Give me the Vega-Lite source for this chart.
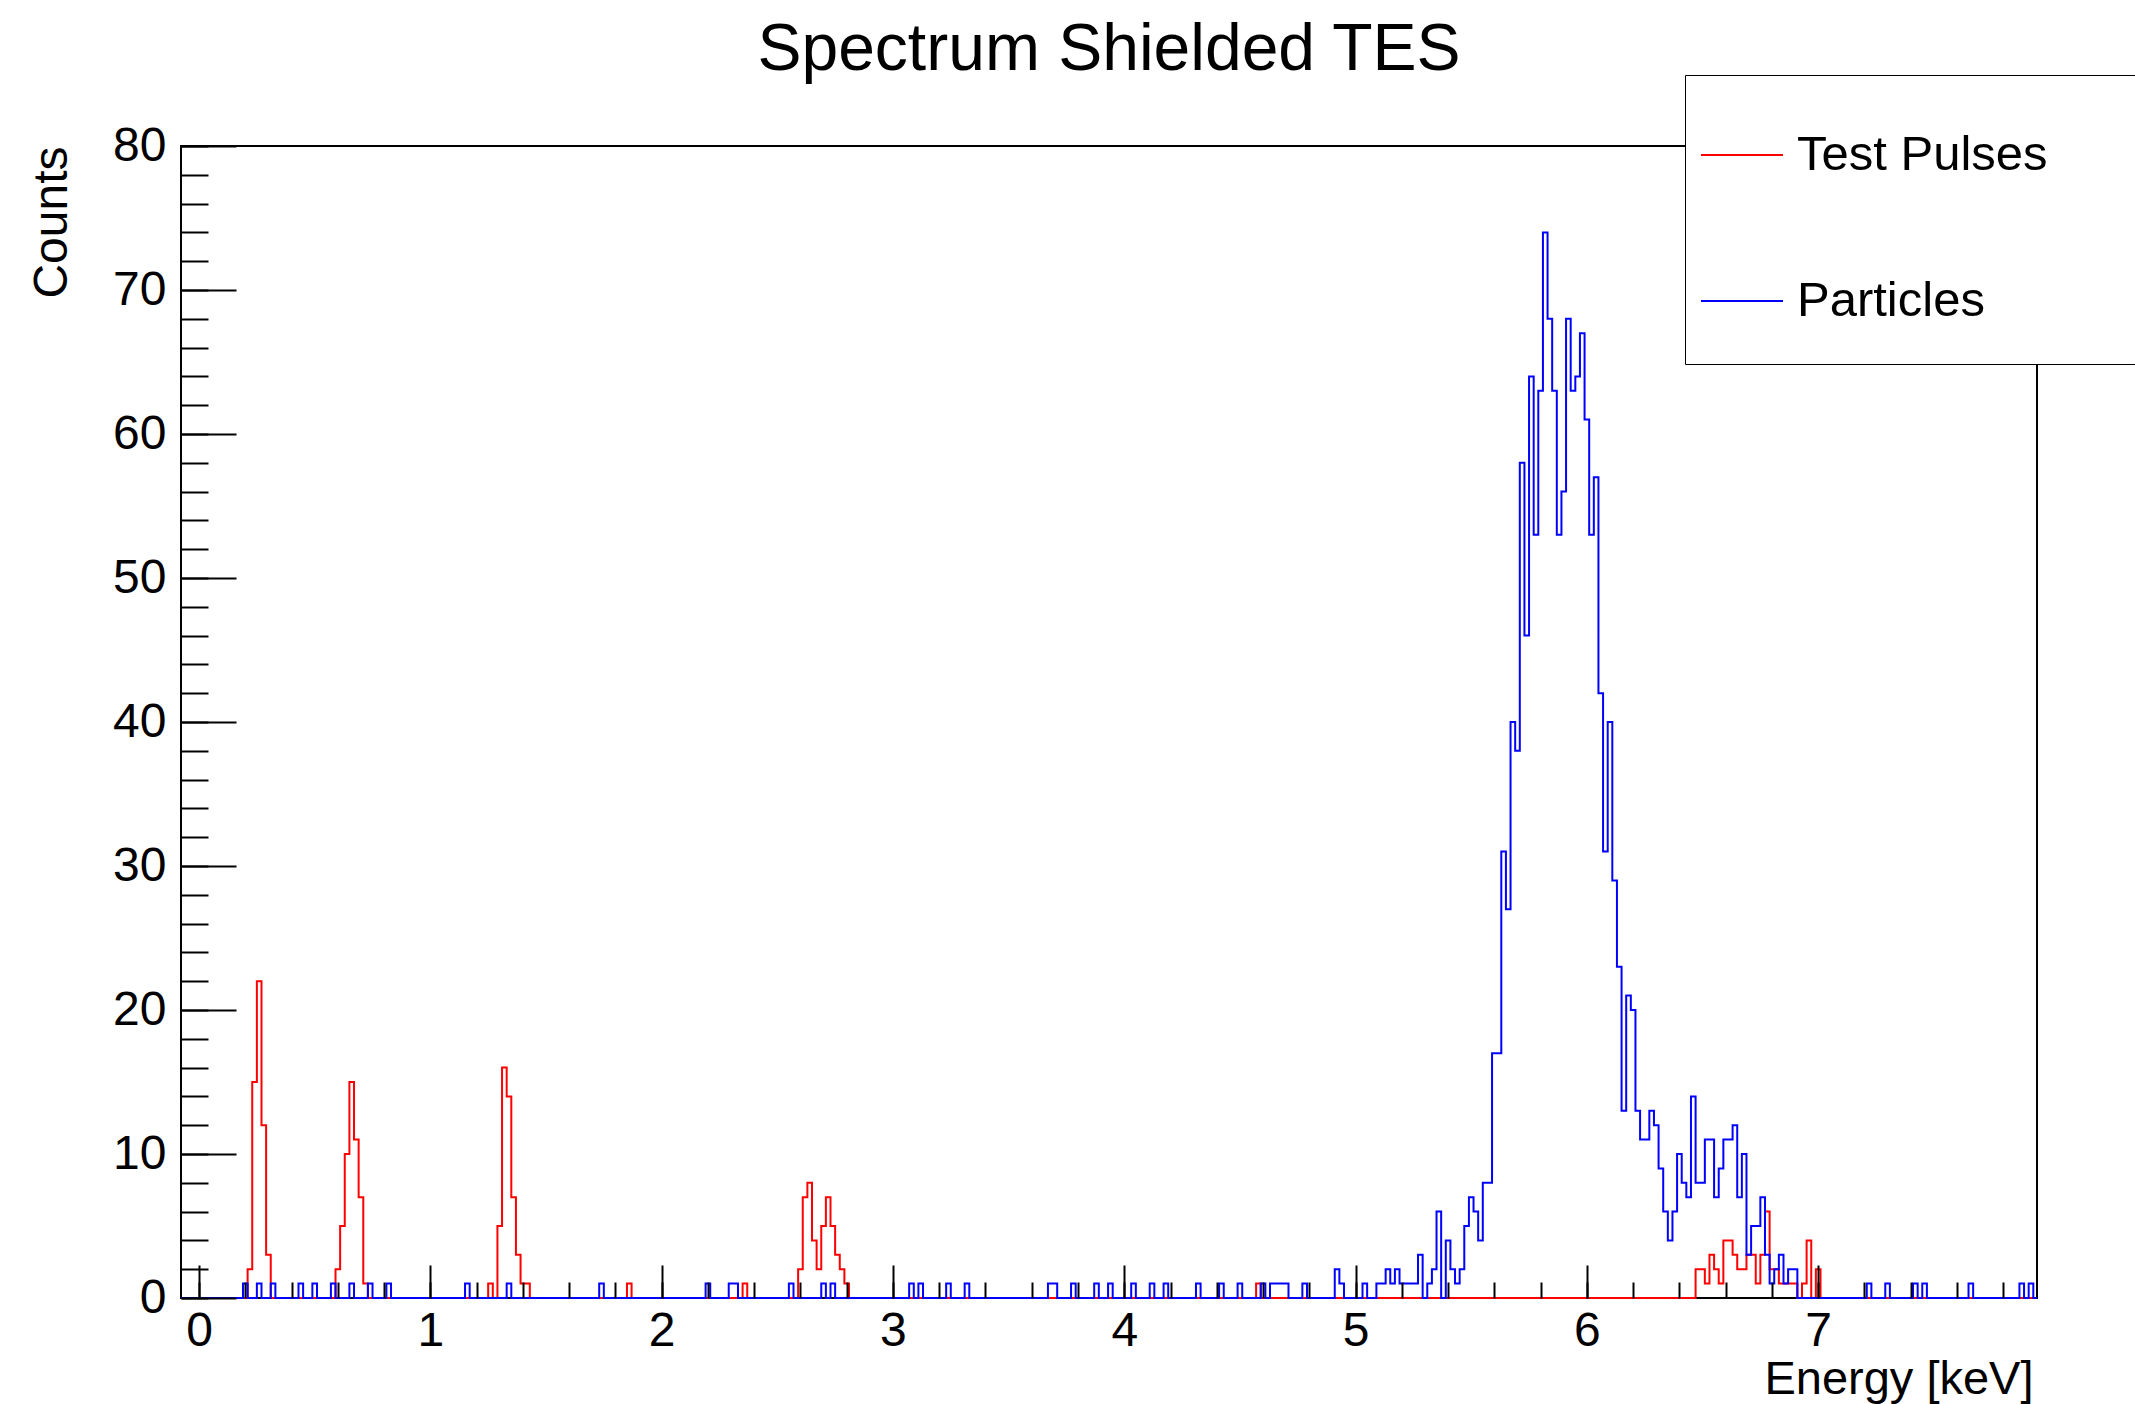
{
  "$schema": "https://vega.github.io/schema/vega-lite/v6.json",
  "width": 1856,
  "height": 1152,
  "autosize": {"type": "none"},
  "padding": {"left": 181, "top": 146, "right": 98, "bottom": 106},
  "background": "white",
  "config": {
    "font": "Liberation Sans",
    "view": {"stroke": "black", "strokeWidth": 2},
    "axis": {"labelFont": "Liberation Sans", "titleFont": "Liberation Sans", "labelColor": "black", "titleColor": "black", "grid": false, "labelOverlap": false, "labelFlush": false}
  },
  "title": {"text": "Spectrum Shielded TES", "font": "Liberation Sans", "fontSize": 66, "fontWeight": "normal", "color": "black", "anchor": "middle", "baseline": "alphabetic", "offset": 4, "dy": 65},
  "datasets": {
    "pulses": [
      {"series": "Test Pulses", "energy": -0.078, "counts": 0},
      {"series": "Test Pulses", "energy": 0.21, "counts": 2},
      {"series": "Test Pulses", "energy": 0.23, "counts": 15},
      {"series": "Test Pulses", "energy": 0.25, "counts": 22},
      {"series": "Test Pulses", "energy": 0.27, "counts": 12},
      {"series": "Test Pulses", "energy": 0.29, "counts": 3},
      {"series": "Test Pulses", "energy": 0.31, "counts": 0},
      {"series": "Test Pulses", "energy": 0.59, "counts": 2},
      {"series": "Test Pulses", "energy": 0.61, "counts": 5},
      {"series": "Test Pulses", "energy": 0.63, "counts": 10},
      {"series": "Test Pulses", "energy": 0.65, "counts": 15},
      {"series": "Test Pulses", "energy": 0.67, "counts": 11},
      {"series": "Test Pulses", "energy": 0.69, "counts": 7},
      {"series": "Test Pulses", "energy": 0.71, "counts": 1},
      {"series": "Test Pulses", "energy": 0.73, "counts": 0},
      {"series": "Test Pulses", "energy": 1.25, "counts": 1},
      {"series": "Test Pulses", "energy": 1.27, "counts": 0},
      {"series": "Test Pulses", "energy": 1.29, "counts": 5},
      {"series": "Test Pulses", "energy": 1.31, "counts": 16},
      {"series": "Test Pulses", "energy": 1.33, "counts": 14},
      {"series": "Test Pulses", "energy": 1.35, "counts": 7},
      {"series": "Test Pulses", "energy": 1.37, "counts": 3},
      {"series": "Test Pulses", "energy": 1.39, "counts": 1},
      {"series": "Test Pulses", "energy": 1.41, "counts": 1},
      {"series": "Test Pulses", "energy": 1.43, "counts": 0},
      {"series": "Test Pulses", "energy": 1.85, "counts": 1},
      {"series": "Test Pulses", "energy": 1.87, "counts": 0},
      {"series": "Test Pulses", "energy": 2.35, "counts": 1},
      {"series": "Test Pulses", "energy": 2.37, "counts": 0},
      {"series": "Test Pulses", "energy": 2.59, "counts": 2},
      {"series": "Test Pulses", "energy": 2.61, "counts": 7},
      {"series": "Test Pulses", "energy": 2.63, "counts": 8},
      {"series": "Test Pulses", "energy": 2.65, "counts": 4},
      {"series": "Test Pulses", "energy": 2.67, "counts": 2},
      {"series": "Test Pulses", "energy": 2.69, "counts": 5},
      {"series": "Test Pulses", "energy": 2.71, "counts": 7},
      {"series": "Test Pulses", "energy": 2.73, "counts": 5},
      {"series": "Test Pulses", "energy": 2.75, "counts": 3},
      {"series": "Test Pulses", "energy": 2.77, "counts": 2},
      {"series": "Test Pulses", "energy": 2.79, "counts": 1},
      {"series": "Test Pulses", "energy": 2.81, "counts": 0},
      {"series": "Test Pulses", "energy": 4.57, "counts": 1},
      {"series": "Test Pulses", "energy": 4.59, "counts": 0},
      {"series": "Test Pulses", "energy": 6.47, "counts": 2},
      {"series": "Test Pulses", "energy": 6.49, "counts": 2},
      {"series": "Test Pulses", "energy": 6.51, "counts": 1},
      {"series": "Test Pulses", "energy": 6.53, "counts": 3},
      {"series": "Test Pulses", "energy": 6.55, "counts": 2},
      {"series": "Test Pulses", "energy": 6.57, "counts": 1},
      {"series": "Test Pulses", "energy": 6.59, "counts": 4},
      {"series": "Test Pulses", "energy": 6.61, "counts": 4},
      {"series": "Test Pulses", "energy": 6.63, "counts": 3},
      {"series": "Test Pulses", "energy": 6.65, "counts": 2},
      {"series": "Test Pulses", "energy": 6.67, "counts": 2},
      {"series": "Test Pulses", "energy": 6.69, "counts": 3},
      {"series": "Test Pulses", "energy": 6.71, "counts": 3},
      {"series": "Test Pulses", "energy": 6.73, "counts": 1},
      {"series": "Test Pulses", "energy": 6.75, "counts": 3},
      {"series": "Test Pulses", "energy": 6.77, "counts": 6},
      {"series": "Test Pulses", "energy": 6.79, "counts": 2},
      {"series": "Test Pulses", "energy": 6.81, "counts": 2},
      {"series": "Test Pulses", "energy": 6.83, "counts": 1},
      {"series": "Test Pulses", "energy": 6.85, "counts": 1},
      {"series": "Test Pulses", "energy": 6.87, "counts": 1},
      {"series": "Test Pulses", "energy": 6.89, "counts": 1},
      {"series": "Test Pulses", "energy": 6.91, "counts": 0},
      {"series": "Test Pulses", "energy": 6.93, "counts": 1},
      {"series": "Test Pulses", "energy": 6.95, "counts": 4},
      {"series": "Test Pulses", "energy": 6.97, "counts": 0},
      {"series": "Test Pulses", "energy": 6.99, "counts": 2},
      {"series": "Test Pulses", "energy": 7.01, "counts": 0},
      {"series": "Test Pulses", "energy": 7.946, "counts": 0}
    ],
    "particles": [
      {"series": "Particles", "energy": -0.078, "counts": 0},
      {"series": "Particles", "energy": 0.19, "counts": 1},
      {"series": "Particles", "energy": 0.21, "counts": 0},
      {"series": "Particles", "energy": 0.25, "counts": 1},
      {"series": "Particles", "energy": 0.27, "counts": 0},
      {"series": "Particles", "energy": 0.31, "counts": 1},
      {"series": "Particles", "energy": 0.33, "counts": 0},
      {"series": "Particles", "energy": 0.43, "counts": 1},
      {"series": "Particles", "energy": 0.45, "counts": 0},
      {"series": "Particles", "energy": 0.49, "counts": 1},
      {"series": "Particles", "energy": 0.51, "counts": 0},
      {"series": "Particles", "energy": 0.57, "counts": 1},
      {"series": "Particles", "energy": 0.59, "counts": 0},
      {"series": "Particles", "energy": 0.65, "counts": 1},
      {"series": "Particles", "energy": 0.67, "counts": 0},
      {"series": "Particles", "energy": 0.73, "counts": 1},
      {"series": "Particles", "energy": 0.75, "counts": 0},
      {"series": "Particles", "energy": 0.81, "counts": 1},
      {"series": "Particles", "energy": 0.83, "counts": 0},
      {"series": "Particles", "energy": 1.15, "counts": 1},
      {"series": "Particles", "energy": 1.17, "counts": 0},
      {"series": "Particles", "energy": 1.33, "counts": 1},
      {"series": "Particles", "energy": 1.35, "counts": 0},
      {"series": "Particles", "energy": 1.73, "counts": 1},
      {"series": "Particles", "energy": 1.75, "counts": 0},
      {"series": "Particles", "energy": 2.19, "counts": 1},
      {"series": "Particles", "energy": 2.21, "counts": 0},
      {"series": "Particles", "energy": 2.29, "counts": 1},
      {"series": "Particles", "energy": 2.31, "counts": 1},
      {"series": "Particles", "energy": 2.33, "counts": 0},
      {"series": "Particles", "energy": 2.55, "counts": 1},
      {"series": "Particles", "energy": 2.57, "counts": 0},
      {"series": "Particles", "energy": 2.69, "counts": 1},
      {"series": "Particles", "energy": 2.71, "counts": 0},
      {"series": "Particles", "energy": 2.73, "counts": 1},
      {"series": "Particles", "energy": 2.75, "counts": 0},
      {"series": "Particles", "energy": 3.07, "counts": 1},
      {"series": "Particles", "energy": 3.09, "counts": 0},
      {"series": "Particles", "energy": 3.11, "counts": 1},
      {"series": "Particles", "energy": 3.13, "counts": 0},
      {"series": "Particles", "energy": 3.23, "counts": 1},
      {"series": "Particles", "energy": 3.25, "counts": 0},
      {"series": "Particles", "energy": 3.31, "counts": 1},
      {"series": "Particles", "energy": 3.33, "counts": 0},
      {"series": "Particles", "energy": 3.67, "counts": 1},
      {"series": "Particles", "energy": 3.69, "counts": 1},
      {"series": "Particles", "energy": 3.71, "counts": 0},
      {"series": "Particles", "energy": 3.77, "counts": 1},
      {"series": "Particles", "energy": 3.79, "counts": 0},
      {"series": "Particles", "energy": 3.87, "counts": 1},
      {"series": "Particles", "energy": 3.89, "counts": 0},
      {"series": "Particles", "energy": 3.93, "counts": 1},
      {"series": "Particles", "energy": 3.95, "counts": 0},
      {"series": "Particles", "energy": 4.03, "counts": 1},
      {"series": "Particles", "energy": 4.05, "counts": 0},
      {"series": "Particles", "energy": 4.11, "counts": 1},
      {"series": "Particles", "energy": 4.13, "counts": 0},
      {"series": "Particles", "energy": 4.17, "counts": 1},
      {"series": "Particles", "energy": 4.19, "counts": 0},
      {"series": "Particles", "energy": 4.31, "counts": 1},
      {"series": "Particles", "energy": 4.33, "counts": 0},
      {"series": "Particles", "energy": 4.41, "counts": 1},
      {"series": "Particles", "energy": 4.43, "counts": 0},
      {"series": "Particles", "energy": 4.49, "counts": 1},
      {"series": "Particles", "energy": 4.51, "counts": 0},
      {"series": "Particles", "energy": 4.59, "counts": 1},
      {"series": "Particles", "energy": 4.61, "counts": 0},
      {"series": "Particles", "energy": 4.63, "counts": 1},
      {"series": "Particles", "energy": 4.65, "counts": 1},
      {"series": "Particles", "energy": 4.67, "counts": 1},
      {"series": "Particles", "energy": 4.69, "counts": 1},
      {"series": "Particles", "energy": 4.71, "counts": 0},
      {"series": "Particles", "energy": 4.77, "counts": 1},
      {"series": "Particles", "energy": 4.79, "counts": 0},
      {"series": "Particles", "energy": 4.91, "counts": 2},
      {"series": "Particles", "energy": 4.93, "counts": 1},
      {"series": "Particles", "energy": 4.95, "counts": 0},
      {"series": "Particles", "energy": 5.03, "counts": 1},
      {"series": "Particles", "energy": 5.05, "counts": 0},
      {"series": "Particles", "energy": 5.09, "counts": 1},
      {"series": "Particles", "energy": 5.11, "counts": 1},
      {"series": "Particles", "energy": 5.13, "counts": 2},
      {"series": "Particles", "energy": 5.15, "counts": 1},
      {"series": "Particles", "energy": 5.17, "counts": 2},
      {"series": "Particles", "energy": 5.19, "counts": 1},
      {"series": "Particles", "energy": 5.21, "counts": 1},
      {"series": "Particles", "energy": 5.23, "counts": 1},
      {"series": "Particles", "energy": 5.25, "counts": 1},
      {"series": "Particles", "energy": 5.27, "counts": 3},
      {"series": "Particles", "energy": 5.29, "counts": 0},
      {"series": "Particles", "energy": 5.31, "counts": 1},
      {"series": "Particles", "energy": 5.33, "counts": 2},
      {"series": "Particles", "energy": 5.35, "counts": 6},
      {"series": "Particles", "energy": 5.37, "counts": 0},
      {"series": "Particles", "energy": 5.39, "counts": 4},
      {"series": "Particles", "energy": 5.41, "counts": 2},
      {"series": "Particles", "energy": 5.43, "counts": 1},
      {"series": "Particles", "energy": 5.45, "counts": 2},
      {"series": "Particles", "energy": 5.47, "counts": 5},
      {"series": "Particles", "energy": 5.49, "counts": 7},
      {"series": "Particles", "energy": 5.51, "counts": 6},
      {"series": "Particles", "energy": 5.53, "counts": 4},
      {"series": "Particles", "energy": 5.55, "counts": 8},
      {"series": "Particles", "energy": 5.57, "counts": 8},
      {"series": "Particles", "energy": 5.59, "counts": 17},
      {"series": "Particles", "energy": 5.61, "counts": 17},
      {"series": "Particles", "energy": 5.63, "counts": 31},
      {"series": "Particles", "energy": 5.65, "counts": 27},
      {"series": "Particles", "energy": 5.67, "counts": 40},
      {"series": "Particles", "energy": 5.69, "counts": 38},
      {"series": "Particles", "energy": 5.71, "counts": 58},
      {"series": "Particles", "energy": 5.73, "counts": 46},
      {"series": "Particles", "energy": 5.75, "counts": 64},
      {"series": "Particles", "energy": 5.77, "counts": 53},
      {"series": "Particles", "energy": 5.79, "counts": 63},
      {"series": "Particles", "energy": 5.81, "counts": 74},
      {"series": "Particles", "energy": 5.83, "counts": 68},
      {"series": "Particles", "energy": 5.85, "counts": 63},
      {"series": "Particles", "energy": 5.87, "counts": 53},
      {"series": "Particles", "energy": 5.89, "counts": 56},
      {"series": "Particles", "energy": 5.91, "counts": 68},
      {"series": "Particles", "energy": 5.93, "counts": 63},
      {"series": "Particles", "energy": 5.95, "counts": 64},
      {"series": "Particles", "energy": 5.97, "counts": 67},
      {"series": "Particles", "energy": 5.99, "counts": 61},
      {"series": "Particles", "energy": 6.01, "counts": 53},
      {"series": "Particles", "energy": 6.03, "counts": 57},
      {"series": "Particles", "energy": 6.05, "counts": 42},
      {"series": "Particles", "energy": 6.07, "counts": 31},
      {"series": "Particles", "energy": 6.09, "counts": 40},
      {"series": "Particles", "energy": 6.11, "counts": 29},
      {"series": "Particles", "energy": 6.13, "counts": 23},
      {"series": "Particles", "energy": 6.15, "counts": 13},
      {"series": "Particles", "energy": 6.17, "counts": 21},
      {"series": "Particles", "energy": 6.19, "counts": 20},
      {"series": "Particles", "energy": 6.21, "counts": 13},
      {"series": "Particles", "energy": 6.23, "counts": 11},
      {"series": "Particles", "energy": 6.25, "counts": 11},
      {"series": "Particles", "energy": 6.27, "counts": 13},
      {"series": "Particles", "energy": 6.29, "counts": 12},
      {"series": "Particles", "energy": 6.31, "counts": 9},
      {"series": "Particles", "energy": 6.33, "counts": 6},
      {"series": "Particles", "energy": 6.35, "counts": 4},
      {"series": "Particles", "energy": 6.37, "counts": 6},
      {"series": "Particles", "energy": 6.39, "counts": 10},
      {"series": "Particles", "energy": 6.41, "counts": 8},
      {"series": "Particles", "energy": 6.43, "counts": 7},
      {"series": "Particles", "energy": 6.45, "counts": 14},
      {"series": "Particles", "energy": 6.47, "counts": 8},
      {"series": "Particles", "energy": 6.49, "counts": 8},
      {"series": "Particles", "energy": 6.51, "counts": 11},
      {"series": "Particles", "energy": 6.53, "counts": 11},
      {"series": "Particles", "energy": 6.55, "counts": 7},
      {"series": "Particles", "energy": 6.57, "counts": 9},
      {"series": "Particles", "energy": 6.59, "counts": 11},
      {"series": "Particles", "energy": 6.61, "counts": 11},
      {"series": "Particles", "energy": 6.63, "counts": 12},
      {"series": "Particles", "energy": 6.65, "counts": 7},
      {"series": "Particles", "energy": 6.67, "counts": 10},
      {"series": "Particles", "energy": 6.69, "counts": 3},
      {"series": "Particles", "energy": 6.71, "counts": 5},
      {"series": "Particles", "energy": 6.73, "counts": 5},
      {"series": "Particles", "energy": 6.75, "counts": 7},
      {"series": "Particles", "energy": 6.77, "counts": 3},
      {"series": "Particles", "energy": 6.79, "counts": 1},
      {"series": "Particles", "energy": 6.81, "counts": 2},
      {"series": "Particles", "energy": 6.83, "counts": 3},
      {"series": "Particles", "energy": 6.85, "counts": 1},
      {"series": "Particles", "energy": 6.87, "counts": 2},
      {"series": "Particles", "energy": 6.89, "counts": 2},
      {"series": "Particles", "energy": 6.91, "counts": 0},
      {"series": "Particles", "energy": 7.21, "counts": 1},
      {"series": "Particles", "energy": 7.23, "counts": 0},
      {"series": "Particles", "energy": 7.29, "counts": 1},
      {"series": "Particles", "energy": 7.31, "counts": 0},
      {"series": "Particles", "energy": 7.41, "counts": 1},
      {"series": "Particles", "energy": 7.43, "counts": 0},
      {"series": "Particles", "energy": 7.45, "counts": 1},
      {"series": "Particles", "energy": 7.47, "counts": 0},
      {"series": "Particles", "energy": 7.65, "counts": 1},
      {"series": "Particles", "energy": 7.67, "counts": 0},
      {"series": "Particles", "energy": 7.87, "counts": 1},
      {"series": "Particles", "energy": 7.89, "counts": 0},
      {"series": "Particles", "energy": 7.91, "counts": 1},
      {"series": "Particles", "energy": 7.93, "counts": 0},
      {"series": "Particles", "energy": 7.946, "counts": 0}
    ]
  },
  "layer": [
    {
      "data": {"name": "pulses"},
      "mark": {"type": "line", "interpolate": "step-after", "strokeWidth": 2},
      "encoding": {
        "x": {"field": "energy", "type": "quantitative", "scale": {"domain": [-0.078, 7.946], "nice": false, "zero": false},
          "axis": {"orient": "bottom", "values": [0, 1, 2, 3, 4, 5, 6, 7], "ticks": false, "domain": false, "labelFontSize": 48, "labelPadding": 9, "title": "Energy [keV]", "titleFontSize": 47, "titleFontWeight": "normal", "titleAnchor": "end", "titleAlign": "right", "titleBaseline": "middle", "titleX": 1852, "titleY": 81}},
        "y": {"field": "counts", "type": "quantitative", "scale": {"domain": [0, 80], "nice": false},
          "axis": {"orient": "left", "values": [0, 10, 20, 30, 40, 50, 60, 70, 80], "ticks": false, "domain": false, "labelFontSize": 48, "labelPadding": 15, "title": "Counts", "titleFontSize": 48, "titleFontWeight": "normal", "titleAnchor": "end", "titleAngle": 270, "titleAlign": "right", "titleBaseline": "middle", "titleX": -129, "titleY": 0}},
        "color": {"field": "series", "type": "nominal", "scale": {"domain": ["Test Pulses", "Particles"], "range": ["#ff0000", "#0000ff"]},
          "legend": {"orient": "none", "legendX": 1504, "legendY": -71, "title": null, "fillColor": "white", "strokeColor": "black", "padding": 38, "rowPadding": 79, "symbolType": "stroke", "symbolSize": 6724, "symbolStrokeWidth": 2, "symbolOffset": -23, "labelFont": "Liberation Sans", "labelFontSize": 49, "labelColor": "black", "labelOffset": 13, "labelLimit": 800, "labelExpr": "datum.label + '\u00a0\u00a0\u00a0\u00a0\u00a0\u00a0\u00a0\u200b'"}}
      }
    },
    {
      "data": {"name": "particles"},
      "mark": {"type": "line", "interpolate": "step-after", "strokeWidth": 2},
      "encoding": {
        "x": {"field": "energy", "type": "quantitative",
          "axis": {"orient": "bottom", "values": [0, 1, 2, 3, 4, 5, 6, 7], "labels": false, "domain": false, "ticks": true, "tickSize": -33, "tickWidth": 2, "tickColor": "black", "title": null, "zindex": 1}},
        "y": {"field": "counts", "type": "quantitative",
          "axis": {"orient": "left", "values": [0, 10, 20, 30, 40, 50, 60, 70, 80], "labels": false, "domain": false, "ticks": true, "tickSize": -55, "tickWidth": 2, "tickColor": "black", "title": null, "zindex": 1}},
        "color": {"field": "series", "type": "nominal"}
      }
    },
    {
      "data": {"name": "particles"},
      "transform": [{"filter": "false"}],
      "mark": {"type": "line", "interpolate": "step-after"},
      "encoding": {
        "x": {"field": "energy", "type": "quantitative",
          "axis": {"orient": "bottom", "values": [0, 0.2, 0.4, 0.6, 0.8, 1, 1.2, 1.4, 1.6, 1.8, 2, 2.2, 2.4, 2.6, 2.8, 3, 3.2, 3.4, 3.6, 3.8, 4, 4.2, 4.4, 4.6, 4.8, 5, 5.2, 5.4, 5.6, 5.8, 6, 6.2, 6.4, 6.6, 6.8, 7, 7.2, 7.4, 7.6, 7.8], "labels": false, "domain": false, "ticks": true, "tickSize": -16, "tickWidth": 2, "tickColor": "black", "title": null, "zindex": 1}},
        "y": {"field": "counts", "type": "quantitative",
          "axis": {"orient": "left", "values": [0, 2, 4, 6, 8, 10, 12, 14, 16, 18, 20, 22, 24, 26, 28, 30, 32, 34, 36, 38, 40, 42, 44, 46, 48, 50, 52, 54, 56, 58, 60, 62, 64, 66, 68, 70, 72, 74, 76, 78, 80], "labels": false, "domain": false, "ticks": true, "tickSize": -27, "tickWidth": 2, "tickColor": "black", "title": null, "zindex": 1}}
      }
    }
  ],
  "resolve": {"axis": {"x": "independent", "y": "independent"}}
}
